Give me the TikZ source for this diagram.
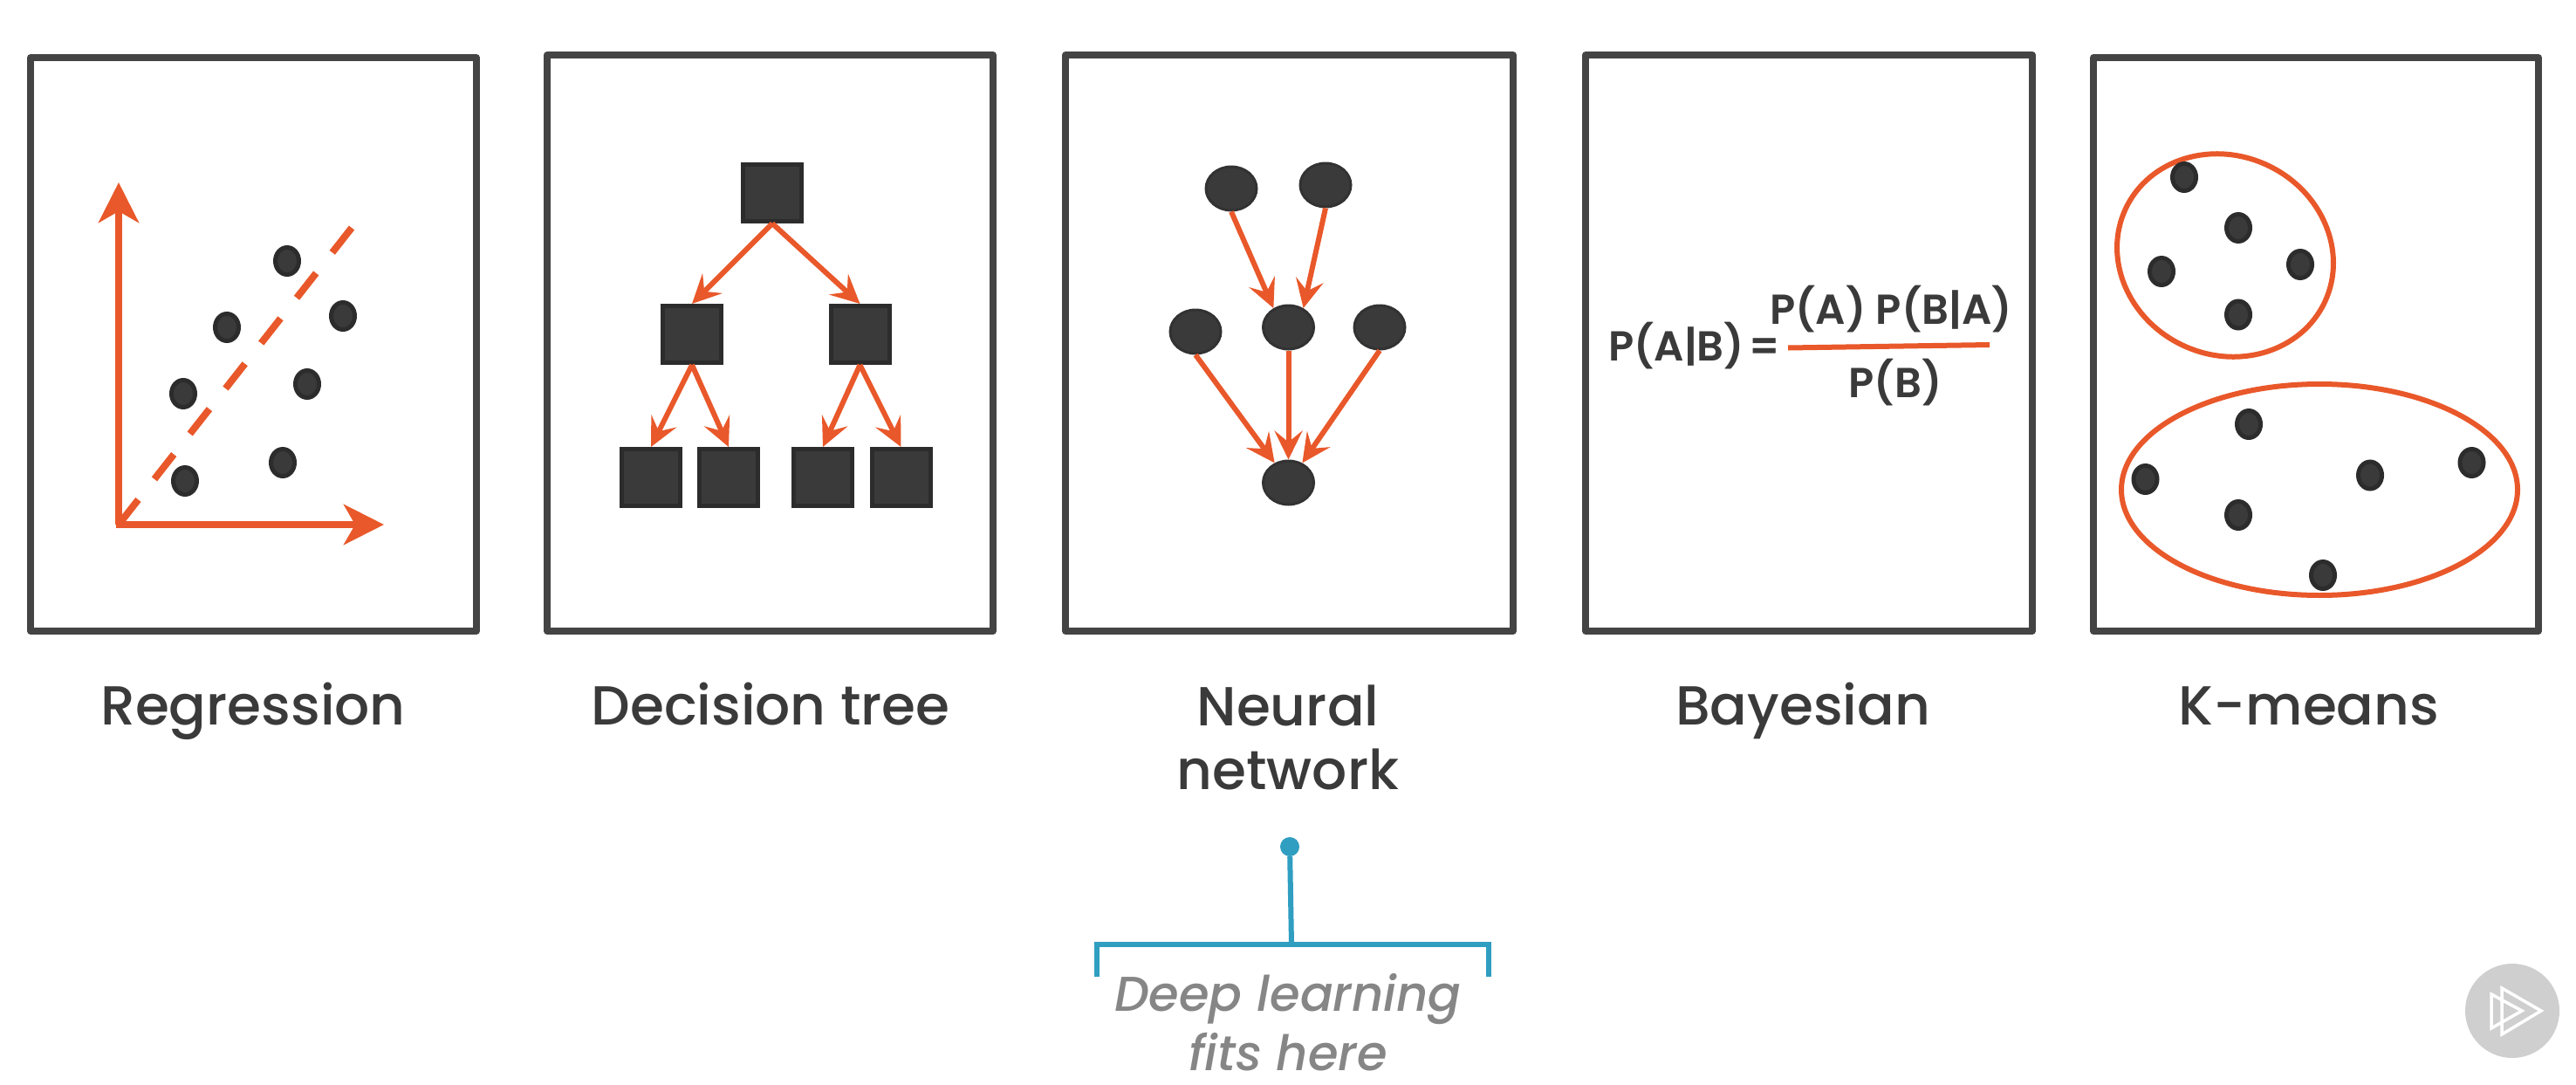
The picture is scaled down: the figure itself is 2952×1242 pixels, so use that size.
\documentclass[tikz,border=0pt]{standalone}
\usepackage{fontspec}
\setmainfont{Poppins}
\newfontfamily\lab{Poppins Medium}
\newfontfamily\form{Poppins SemiBold}
\newfontfamily\ital{Poppins Medium Italic}
\usetikzlibrary{arrows.meta,shapes.geometric}
\definecolor{rust}{HTML}{E9582A}
\definecolor{ink}{HTML}{3A3A3A}
\definecolor{edge}{HTML}{2C2C2C}
\definecolor{frame}{HTML}{444444}
\definecolor{teal}{HTML}{2F9EC1}
\tikzset{
 panel/.style={draw=frame,line width=7.5pt,line join=round},
 dot/.style={ellipse,fill=ink,draw=edge,line width=5pt,inner sep=0pt,minimum width=27pt,minimum height=31pt},
 sqr/.style={rectangle,fill=ink,draw=edge,line width=5pt,inner sep=0pt,minimum width=67pt,minimum height=65pt},
 neuron/.style={ellipse,fill=ink,draw=edge!60!ink,line width=3pt,inner sep=0pt,minimum width=58pt,minimum height=50pt},
 bigarrow/.style={draw=rust,line width=8pt,-{Stealth[length=46pt,width=46pt,inset=13pt]}},
 thinarrow/.style={draw=rust,line width=6pt,-{Stealth[length=33pt,width=32pt,inset=13pt]}},
 trendline/.style={draw=rust,line width=8pt,dash pattern=on 36pt off 30pt},
 cluster/.style={draw=rust,line width=6pt},
 bayes/.style={text=ink,font=\form\fontsize{48}{46}\selectfont,inner sep=0pt},
 caption/.style={text=ink,font=\lab\fontsize{63}{73}\selectfont,inner sep=0pt,align=center},
 note/.style={text=gray!95,font=\ital\fontsize{56}{68}\selectfont,inner sep=0pt,align=center},
 bracket/.style={draw=teal,line width=6pt}
}
\begin{document}
\begin{tikzpicture}[x=1pt,y=-1pt]
\useasboundingbox[fill=white] (0,0) rectangle (2952,1242);
% panels
\draw[panel] (35,66) rectangle (546,723);
\draw[panel] (627,63) rectangle (1138,723);
\draw[panel] (1221,63) rectangle (1734,723);
\draw[panel] (1817,63) rectangle (2329,723);
\draw[panel] (2399,66) rectangle (2909,723);
% regression
\coordinate (o) at (136,601);
\coordinate (ytip) at (136,209);
\coordinate (xtip) at (440,601);
\coordinate (tl) at (403,261);
\draw[trendline] (tl) -- (o);
\draw[bigarrow] (o) -- (ytip);
\draw[bigarrow] ([xshift=-3pt]o) -- (xtip);
\node[dot] (r1) at (329,299) {};
\node[dot] (r2) at (393,362) {};
\node[dot] (r3) at (260,375) {};
\node[dot] (r4) at (352,440) {};
\node[dot] (r5) at (210,451) {};
\node[dot] (r6) at (324,530) {};
\node[dot] (r7) at (212,551) {};
% decision tree
\node[sqr] (root) at (885,221) {};
\node[sqr] (dl) at (793,383) {};
\node[sqr] (dr) at (985.5,383) {};
\node[sqr] (d1) at (746,547) {};
\node[sqr] (d2) at (835,547) {};
\node[sqr] (d3) at (943,547) {};
\node[sqr] (d4) at (1032.5,547) {};
\draw[thinarrow] (root.south) -- (dl.north);
\draw[thinarrow] (root.south) -- (dr.north);
\draw[thinarrow] (dl.south) -- (d1.north);
\draw[thinarrow] (dl.south) -- (d2.north);
\draw[thinarrow] (dr.south) -- (d3.north);
\draw[thinarrow] (dr.south) -- (d4.north);
% neural network
\node[neuron] (n1) at (1411,216) {};
\node[neuron] (n2) at (1519,212) {};
\node[neuron] (n3) at (1370,380) {};
\node[neuron] (n4) at (1476.5,375) {};
\node[neuron] (n5) at (1581,375) {};
\node[neuron] (n6) at (1476.5,553) {};
\draw[thinarrow] (n1.south) -- (n4.128);
\draw[thinarrow] (n2.south) -- (n4.52);
\draw[thinarrow] (n3.south) -- (n6.125);
\draw[thinarrow] (n4.south) -- (n6.north);
\draw[thinarrow] (n5.south) -- (n6.55);
% bayes
\node[bayes,anchor=base west] (b1) at (1843,413) {P(A|B)\kern5pt=};
\node[bayes,anchor=base] (b2) at (2167,371) {P(A) P(B|A)};
\node[bayes,anchor=base] (b3) at (2172,455) {P(B)};
\coordinate (barl) at (2049,398.5);
\coordinate (barr) at (2280,395);
\draw[draw=rust,line width=6pt] (barl) -- (barr);
% k-means
\draw[cluster,rotate around={-25:(2550,292.5)}] (2550,292.5) ellipse (126 and 114);
\draw[cluster] (2658,561) ellipse (227 and 121);
\node[dot] (k1) at (2503,203) {};
\node[dot] (k2) at (2565,261) {};
\node[dot] (k3) at (2477,311) {};
\node[dot] (k4) at (2636,303) {};
\node[dot] (k5) at (2565,360.5) {};
\node[dot] (k6) at (2577,486) {};
\node[dot] (k7) at (2458.5,549) {};
\node[dot] (k8) at (2716,544.5) {};
\node[dot] (k9) at (2832.5,530) {};
\node[dot] (k10) at (2565,590) {};
\node[dot] (k11) at (2662,659) {};
% captions
\node[caption,anchor=base] (c1) at (290,830) {Regression};
\node[caption,anchor=base] (c2) at (883,830) {Decision tree};
\node[caption] (c3) at (1476,845) {Neural\\network};
\node[caption,anchor=base] (c4) at (2066,830) {Bayesian};
\node[caption,anchor=base] (c5) at (2646,830) {K-means};
% bracket
\node[circle,fill=teal,inner sep=0pt,minimum size=22pt] (pin) at (1478,970) {};
\coordinate (bmid) at (1480,1082);
\coordinate (bl) at (1256.5,1119);
\coordinate (br) at (1705.5,1119);
\draw[bracket] (pin) -- (bmid);
\draw[bracket,line join=miter] (bl) |- (bmid) -| (br);
\node[note] (dn) at (1476,1171) {Deep learning\\fits here};
% play badge
\fill[gray!38] (2879,1158) circle (54);
\draw[white,line width=3.5pt,line join=miter] (2867,1132) -- (2912,1158) -- (2867,1185) -- cycle;
\draw[white,line width=3.5pt,line join=miter] (2855,1139) -- (2890,1158) -- (2855,1178) -- cycle;
\end{tikzpicture}
\end{document}
